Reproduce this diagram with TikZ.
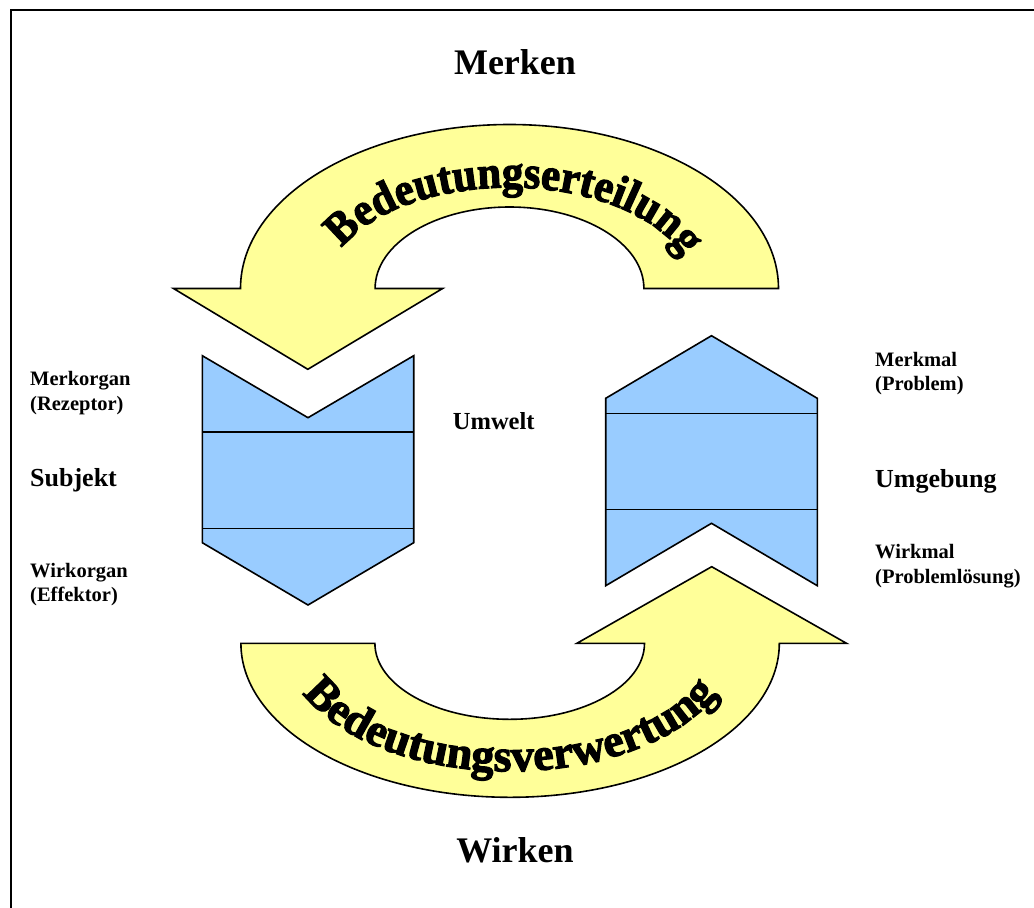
\documentclass[tikz,border=0pt]{standalone}
\usepackage{fontspec}
\setmainfont{Liberation Serif}
\newfontface\wordartface{Liberation Serif Bold}[FakeBold=2.5]
\newfontface\wordartnarrow{Liberation Serif Bold}[FakeBold=2.5, FakeStretch=0.93]
\usetikzlibrary{decorations.text}
\definecolor{arrowfill}{RGB}{255,255,153}
\definecolor{organfill}{RGB}{153,204,255}
\newcommand\wordartfont{\wordartface\fontsize{46}{46}\selectfont}
\newcommand\wordartnarrowfont{\wordartnarrow\fontsize{46}{46}\selectfont}
\begin{document}
\begin{tikzpicture}[x=1pt,y=1pt,
  outline/.style={draw=black, line width=1.6pt, line join=miter},
  arrowshape/.style={outline, fill=arrowfill},
  organ/.style={outline, fill=organfill},
  divider/.style={draw=black, line width=1.6pt},
  frameline/.style={draw=black, line width=2pt},
  title/.style={inner sep=0pt, anchor=base, font=\fontsize{36}{40}\selectfont\bfseries},
  mainlabel/.style={inner sep=0pt, anchor=base west, font=\fontsize{26}{30}\selectfont\bfseries},
  sublabel/.style={inner sep=0pt, anchor=base west, font=\fontsize{20.5}{24}\selectfont\bfseries},
  arctext/.style={decorate, decoration={text along path, text align=center, text={#1}}}]
\useasboundingbox (0,0) rectangle (1034,-908);

% frame (only its left and top sides fall inside the page)
\draw[frameline] (10.8,-930) -- (10.8,-10) -- (1060,-10);

% centres of the two curved arrows
\coordinate (tc) at (509.5,-288.5);
\coordinate (bc) at (510,-643.3);

% upper curved arrow, pointing down onto the receptor
\draw[arrowshape] (778.5,-288.5)
  arc[start angle=0, end angle=180, x radius=269, y radius=164]
  -- (173.5,-288.5) -- (307.8,-369.3) -- (442.6,-288.5) -- (375.1,-288.5)
  arc[start angle=180, end angle=0, x radius=134.4, y radius=81.5]
  -- cycle;

% lower curved arrow, pointing up onto the feature
\draw[arrowshape] (240.9,-643.3)
  arc[start angle=180, end angle=360, x radius=269.2, y radius=154]
  -- (846.5,-643.3) -- (711.7,-566.7) -- (576.9,-643.3) -- (644.5,-643.3)
  arc[start angle=0, end angle=-180, x radius=134.8, y radius=76]
  -- cycle;

% subject block
\draw[organ] (202.3,-355.7) -- (308,-417.7) -- (413.7,-355.7) -- (413.7,-542.7)
  -- (308,-605) -- (202.3,-542.7) -- cycle;
\draw[divider] (202.3,-432) -- (413.7,-432);
\draw[divider] (202.3,-528.3) -- (413.7,-528.3);

% environment block
\draw[organ] (605.7,-398.3) -- (711.5,-335.7) -- (817.3,-398.3) -- (817.3,-585.7)
  -- (711.5,-523.3) -- (605.7,-585.7) -- cycle;
\draw[divider] (605.7,-413.3) -- (817.3,-413.3);
\draw[divider] (605.7,-509.3) -- (817.3,-509.3);

% lettering along the arrows
\path[arctext={|\wordartnarrowfont|Bedeutungserteilung}] (tc) ++(175:183 and 101)
  arc[start angle=175, end angle=-1, x radius=183, y radius=101];
\path[arctext={|\wordartfont|Bedeutungsverwertung}] (bc) ++(190:225 and 128)
  arc[start angle=190, end angle=350, x radius=225, y radius=128];

% titles
\node[title] (merken) at (515,-74) {Merken};
\node[title] (wirken) at (515,-862) {Wirken};
\node[mainlabel, font=\fontsize{24.5}{28}\selectfont\bfseries] (umwelt) at (452.7,-429.3) {Umwelt};

% subject side
\node[sublabel] (merkorgan) at (30,-385.7) {Merkorgan};
\node[sublabel] (rezeptor) at (30,-410.7) {(Rezeptor)};
\node[mainlabel] (subjekt) at (30,-486.7) {Subjekt};
\node[sublabel] (wirkorgan) at (30,-577.3) {Wirkorgan};
\node[sublabel] (effektor) at (30,-601.7) {(Effektor)};

% environment side
\node[sublabel] (merkmal) at (875,-366.7) {Merkmal};
\node[sublabel] (problem) at (875,-390.7) {(Problem)};
\node[mainlabel] (umgebung) at (875,-487) {Umgebung};
\node[sublabel] (wirkmal) at (875,-558.3) {Wirkmal};
\node[sublabel] (loesung) at (875,-583.3) {(Problemlösung)};
\end{tikzpicture}
\end{document}
